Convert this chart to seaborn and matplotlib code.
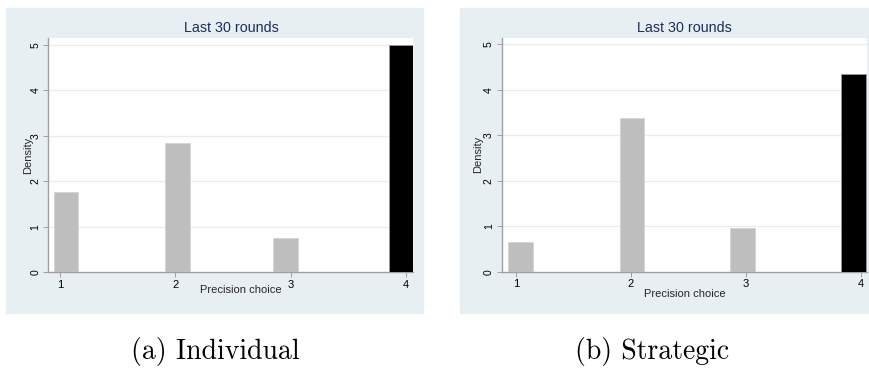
import matplotlib
matplotlib.use("Agg")
import matplotlib.pyplot as plt
from matplotlib.patches import Rectangle
import pandas as pd
import seaborn as sns

# 数据
choices = [1, 2, 3, 4]
bin_mid_ind = [1.05, 2.02, 2.955, 3.955]
density_ind = [1.77, 2.84, 0.74, 5.01]
bin_mid_str = [1.04, 2.01, 2.97, 3.94]
density_str = [0.66, 3.38, 0.97, 4.34]
is_top = ["no", "no", "no", "yes"]
panel_title = "Last 30 rounds"
captions = ["(a) Individual", "(b) Strategic"]

sns.set_style("white")
plt.rcParams['font.family'] = ['Liberation Sans', 'DejaVu Sans']

W, H = 869, 378
fig = plt.figure(figsize=(W / 100, H / 100), dpi=100)
BG = "#e8eff2"
NAVY = "#1c2c5a"


def fx(px):
    return px / W


def fy(py):
    return 1 - py / H


# 面板背景
for x0, x1 in [(6, 423), (460, 869)]:
    fig.patches.append(Rectangle((fx(x0), fy(313)), fx(x1 - x0), (313 - 8) / H,
                                 transform=fig.transFigure, color=BG, zorder=-5))

specs = [
    dict(box=(48, 412.7, 38, 272), xlim=(0.896, 4.059), ylim=(0, 5.154),
         mid=bin_mid_ind, dens=density_ind, xl=(0.53, -0.077), yl=(-0.055, 0.5)),
    dict(box=(501.5, 866.7, 38, 271.7), xlim=(0.874, 4.052), ylim=(0, 5.14),
         mid=bin_mid_str, dens=density_str, xl=(0.503, -0.095), yl=(-0.064, 0.5)),
]

for i, s in enumerate(specs):
    l, r, t, b = s["box"]
    ax = fig.add_axes([fx(l), fy(b), fx(r - l), (b - t) / H])
    ax.set_zorder(2)
    ax.set_facecolor("white")
    df = pd.DataFrame({"x": s["mid"], "density": s["dens"], "top": is_top})
    sns.barplot(data=df, x="x", y="density", hue="top", native_scale=True,
                dodge=False, width=0.21 / 0.935, palette={"no": "#bebebe", "yes": "black"},
                legend=False, ax=ax, zorder=3, saturation=1)
    for p in ax.patches:
        if p.get_facecolor()[0] < 0.5:
            p.set_edgecolor("#9a9a9a")
        else:
            p.set_edgecolor("#d4d4d4")
        p.set_linewidth(0.6)
    ax.set_xlim(*s["xlim"])
    ax.set_ylim(*s["ylim"])
    ax.set_xticks(choices)
    ax.set_xticklabels([str(c) for c in choices], fontsize=8)
    ax.set_yticks([0, 1, 2, 3, 4, 5])
    ax.set_yticklabels(["0", "1", "2", "3", "4", "5"], fontsize=7.5, rotation=90, va="center")
    for y in [1, 2, 3, 4, 5]:
        ax.axhline(y, color="#e6eef0", lw=1.0, zorder=1)
    for side in ["top", "right"]:
        ax.spines[side].set_visible(False)
    for side in ["left", "bottom"]:
        ax.spines[side].set_color("#a0a0a0")
        ax.spines[side].set_linewidth(1.0)
    ax.tick_params(axis="both", direction="out", length=3.5, width=0.7,
                   color="#a0a0a0", pad=2, labelcolor="black")
    ax.tick_params(axis="x", bottom=True)
    ax.tick_params(axis="y", left=True)
    ax.set_xlabel("Precision choice", fontsize=8)
    ax.xaxis.set_label_coords(*s["xl"])
    ax.xaxis.label.set_va("center")
    ax.set_ylabel("Density", fontsize=8)
    ax.yaxis.set_label_coords(*s["yl"])
    ax.yaxis.label.set_va("center")
    ax.text(0.502, 1.043, panel_title, transform=ax.transAxes, ha="center", va="center",
            fontsize=10.3, color=NAVY)

fig.text(fx(215), fy(352), captions[0], ha="center", va="center", fontsize=20,
         family="cmr10", color="black")
fig.text(fx(652), fy(352), captions[1], ha="center", va="center", fontsize=20,
         family="cmr10", color="black")

fig.savefig("out.png", dpi=100)
